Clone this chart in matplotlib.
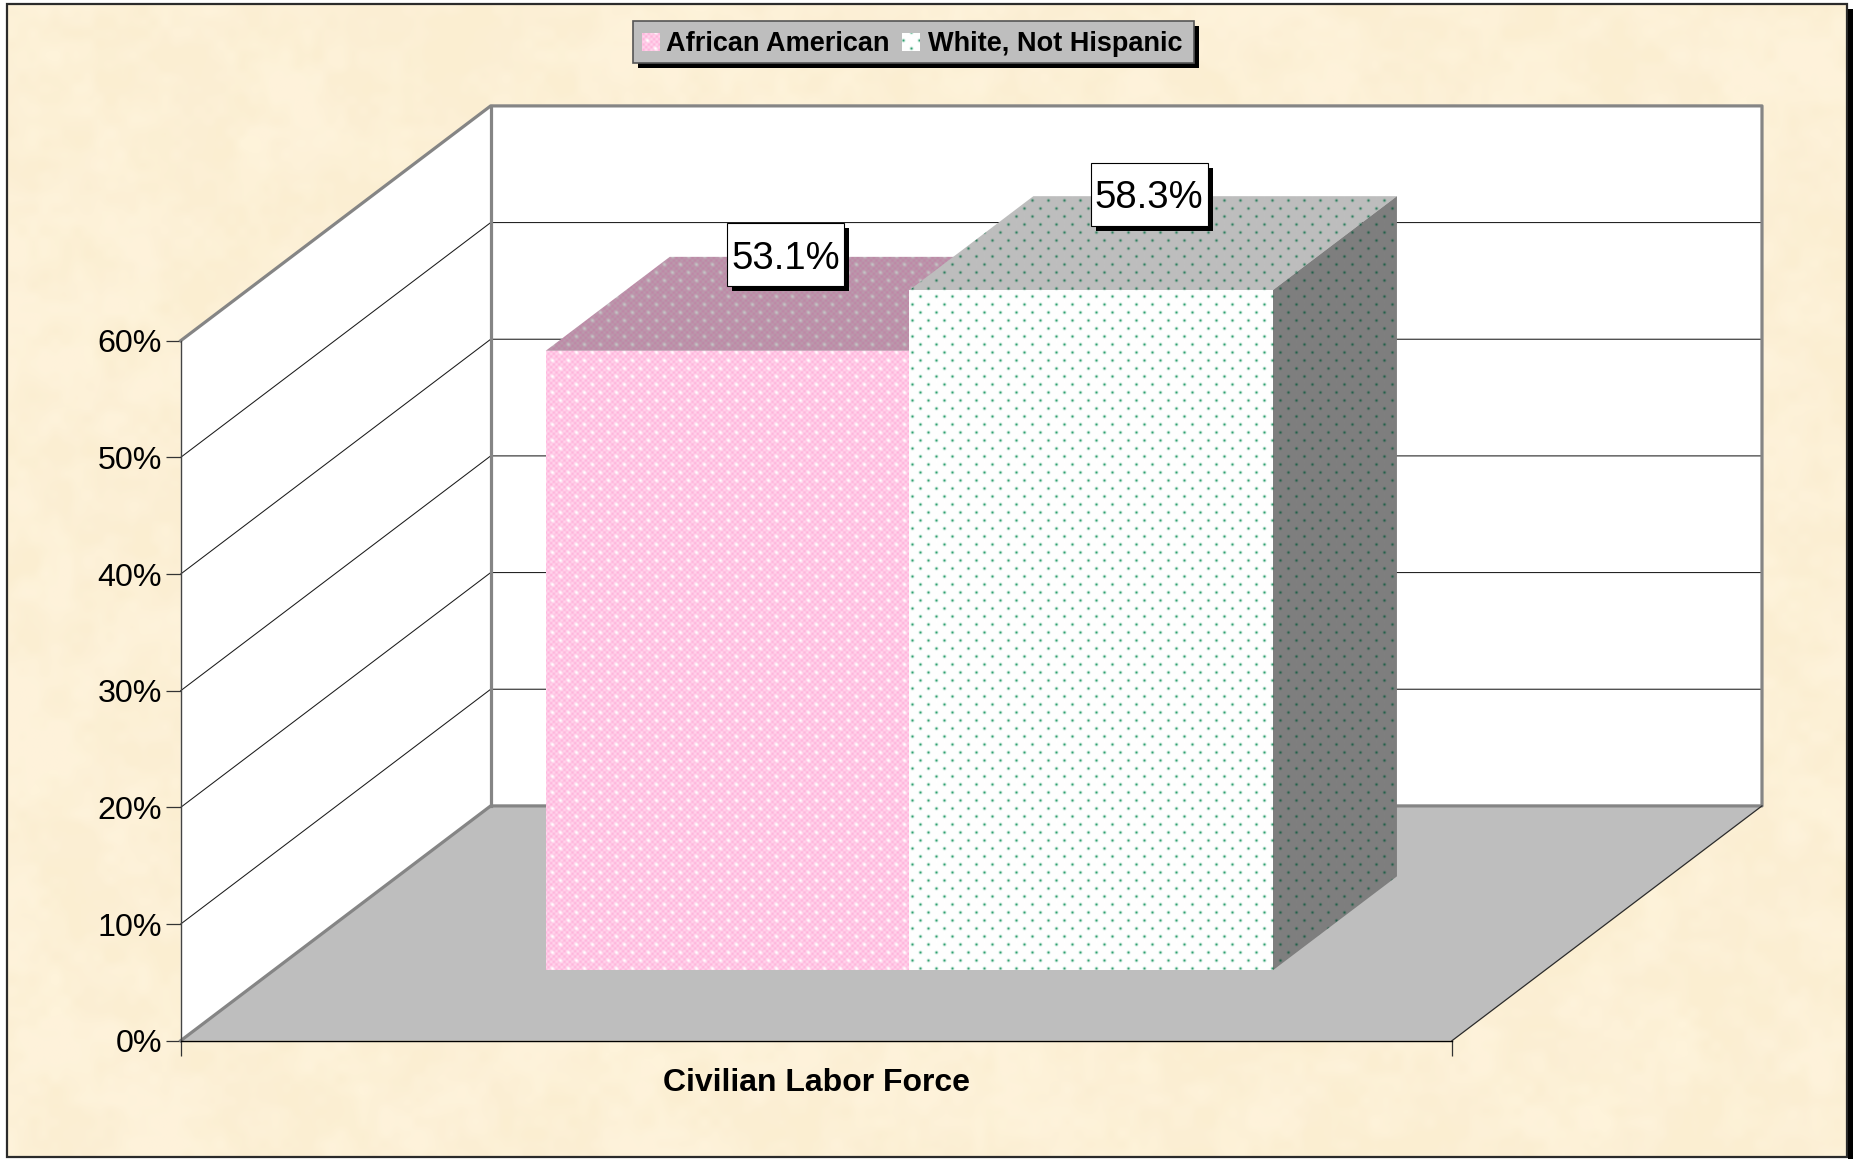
import numpy as np
import matplotlib
matplotlib.use("Agg")
import matplotlib.pyplot as plt
from matplotlib.patches import Polygon, Rectangle
from matplotlib.ticker import PercentFormatter

plt.rcParams['font.family'] = ['Liberation Sans', 'DejaVu Sans']

# data
category = "Civilian Labor Force"
series_names = ["African American", "White, Not Hispanic"]
african_american = [53.1]
white_not_hispanic = [58.3]
y_ticks = [0, 10, 20, 30, 40, 50, 60]

W, H = 1858, 1159
DPI = 100

# front plane of the 3d box, in pixels of the figure
FRONT_L, FRONT_R = 180.7, 1452.0
FRONT_0, FRONT_60 = 1040.7, 340.7
DX = 310.0 / (FRONT_R - FRONT_L)        # x shift for full depth
DY = 234.8 / (FRONT_0 - FRONT_60) * 60  # value shift for full depth
GROUP_W = 0.572
BAR_D0, BAR_D1 = 0.30, 0.70

yy, xx = np.mgrid[0:H, 0:W]


def hash_noise(cell, seed):
    # smooth value noise, from a plain sine hash
    nx, ny = W // cell + 2, H // cell + 2
    j, i = np.mgrid[0:ny, 0:nx]
    g = np.sin(i * 12.9898 + j * 78.233 + seed) * 43758.5453
    g = g - np.floor(g)
    fx, fy = xx / cell, yy / cell
    ix, iy = fx.astype(int), fy.astype(int)
    tx, ty = fx - ix, fy - iy
    tx, ty = tx * tx * (3 - 2 * tx), ty * ty * (3 - 2 * ty)
    a = g[iy, ix] * (1 - tx) + g[iy, ix + 1] * tx
    b = g[iy + 1, ix] * (1 - tx) + g[iy + 1, ix + 1] * tx
    return a * (1 - ty) + b * ty


def rgb(c):
    return np.array(matplotlib.colors.to_rgb(c))


def parchment():
    n1 = hash_noise(70, 1.3) * 0.35 + hash_noise(28, 2.7) * 0.4 + hash_noise(11, 4.1) * 0.25
    n2 = hash_noise(50, 7.7) * 0.6 + hash_noise(18, 9.2) * 0.4
    n1 = np.clip((n1 - 0.5) * 2.4 + 0.5, 0, 1)[..., None]
    n2 = np.clip((n2 - 0.5) * 2.5 + 0.5, 0, 1)[..., None]
    tex = rgb("#FBEED1") * (1 - n1) + rgb("#FEF3DA") * n1
    return tex * (1 - 0.15 * n2) + rgb("#FEF0E0") * 0.15 * n2


def lattice(sigma):
    # staggered blobs: 16 px along a row, 8 px between rows
    px = (xx + 8 * (((yy + 4) // 8) % 2) + 8) % 16 - 8
    py = (yy + 4) % 8 - 4
    return np.exp(-(px ** 2 + py ** 2) / (2 * sigma ** 2))[..., None]


def dotted(base, dot):
    a = lattice(0.95)
    return rgb(base) * (1 - a) + rgb(dot) * a


def checked(c1, c2, blob):
    a = (0.5 + 0.5 * np.sin(np.pi * xx * 3 / 8) * np.sin(np.pi * yy * 3 / 8))[..., None]
    tex = rgb(c1) * (1 - a) + rgb(c2) * a
    b = lattice(1.3)
    return tex * (1 - b) + rgb(blob) * b


fig = plt.figure(figsize=(W / DPI, H / DPI), dpi=DPI, facecolor="white")

# background sheet
bg = fig.add_axes([0, 0, 1, 1], zorder=0)
bg.set_xlim(0, W)
bg.set_ylim(H, 0)
bg.axis("off")
sheet = bg.imshow(parchment(), extent=(0, W, H, 0), aspect="auto", interpolation="nearest")
frame = Rectangle((7, 4), 1840, 1153, fill=False, ec="#2b2b2b", lw=1.6)
bg.add_patch(frame)
sheet.set_clip_path(Rectangle((7, 4), 1840, 1153, transform=bg.transData))
bg.add_patch(Rectangle((1848, 9), 5, H, fc="black", ec="none"))

# chart axes = front plane of the box
ax = fig.add_axes([FRONT_L / W, 1 - FRONT_0 / H, (FRONT_R - FRONT_L) / W, (FRONT_0 - FRONT_60) / H], zorder=2)
ax.patch.set_visible(False)
ax.set_xlim(0, 1)
ax.set_ylim(0, 60)
ax.set_yticks(y_ticks)
ax.yaxis.set_major_formatter(PercentFormatter(decimals=0))
ax.set_xticks([0, 1])
ax.set_xticklabels([])
ax.tick_params(axis="y", length=10.5, width=0.9, color="#333333", labelsize=23.2, pad=3)
ax.tick_params(axis="x", length=10.5, width=0.9, color="#333333")
ax.set_xlabel(category, fontsize=23, fontweight="bold", labelpad=6)
for s in ("top", "right"):
    ax.spines[s].set_visible(False)
ax.spines["left"].set_color("#444444")
ax.spines["left"].set_linewidth(1.0)
ax.spines["bottom"].set_color("black")
ax.spines["bottom"].set_linewidth(1.0)


def project(x, v, d):
    return (x + d * DX, v + d * DY)


def face(pts, **kw):
    p = Polygon([project(*q) for q in pts], closed=True, clip_on=False, **kw)
    ax.add_patch(p)
    return p


def line3d(pts, **kw):
    q = [project(*p) for p in pts]
    ax.plot([a[0] for a in q], [a[1] for a in q], clip_on=False, solid_capstyle="projecting", **kw)


inv = ax.transData.inverted()
(ex0, ey0), (ex1, ey1) = inv.transform([(0, 0), (W, H)])


def tex_face(tex, pts, z):
    p = Polygon([project(*q) for q in pts], closed=True, transform=ax.transData)
    im = ax.imshow(tex, extent=(ex0, ex1, ey0, ey1), origin="upper", aspect="auto",
                   interpolation="nearest", zorder=z)
    im.set_clip_box(fig.bbox)
    im.set_clip_path(p)


# walls and floor
vmax = y_ticks[-1]
face([(0, 0, 0), (0, vmax, 0), (0, vmax, 1), (0, 0, 1)], fc="white", ec="none", zorder=1)
face([(0, 0, 1), (0, vmax, 1), (1, vmax, 1), (1, 0, 1)], fc="white", ec="none", zorder=1)
face([(0, 0, 0), (1, 0, 0), (1, 0, 1), (0, 0, 1)], fc="#BEBEBE", ec="none", zorder=1)

for v in y_ticks[1:-1]:
    line3d([(0, v, 0), (0, v, 1), (1, v, 1)], color="#1a1a1a", lw=0.75, zorder=1.5)
wall = dict(color="#858585", lw=2.3, zorder=1.6)
line3d([(0, vmax, 0), (0, vmax, 1), (1, vmax, 1), (1, 0, 1), (0, 0, 1), (0, 0, 0)], **wall)
line3d([(0, 0, 1), (0, vmax, 1)], **wall)
line3d([(1, 0, 0), (1, 0, 1)], color="#2b2b2b", lw=0.9, zorder=1.6)

# bars
x0 = 0.5 - GROUP_W / 2
bw = GROUP_W / 2
pink_front = checked("#FFB4DC", "#FFD6EC", "#FFFFFF")
pink_top = checked("#BF87A7", "#B99BAC", "#C4C4C4")
green_front = dotted("#FFFFFF", "#2FA070")
green_top = dotted("#BEBEBE", "#2F8060")
green_side = dotted("#7F7F7F", "#24604A")

left, mid, right = x0, x0 + bw, x0 + 2 * bw
v1 = african_american[0]
v2 = white_not_hispanic[0]
tex_face(pink_top, [(left, v1, BAR_D0), (mid, v1, BAR_D0), (mid, v1, BAR_D1), (left, v1, BAR_D1)], 3)
tex_face(pink_front, [(left, 0, BAR_D0), (mid, 0, BAR_D0), (mid, v1, BAR_D0), (left, v1, BAR_D0)], 3.1)
tex_face(green_top, [(mid, v2, BAR_D0), (right, v2, BAR_D0), (right, v2, BAR_D1), (mid, v2, BAR_D1)], 3.2)
tex_face(green_side, [(right, 0, BAR_D0), (right, 0, BAR_D1), (right, v2, BAR_D1), (right, v2, BAR_D0)], 3.3)
tex_face(green_front, [(mid, 0, BAR_D0), (right, 0, BAR_D0), (right, v2, BAR_D0), (mid, v2, BAR_D0)], 3.4)

# value boxes
sx = 1 / (FRONT_R - FRONT_L)
sy = 60 / (FRONT_0 - FRONT_60)
BOX_W, BOX_H, SHADOW = 117, 63, 5
for xc, val in ((left + bw / 2, v1), (mid + bw / 2, v2)):
    cx = project(xc, val, 0.5)[0] - 4 * sx
    cy = project(xc, val, BAR_D1)[1] + 2 * sy
    ax.add_patch(Rectangle((cx - BOX_W / 2 * sx + SHADOW * sx, cy - BOX_H / 2 * sy - SHADOW * sy), BOX_W * sx, BOX_H * sy,
                           fc="black", ec="none", clip_on=False, zorder=4))
    ax.add_patch(Rectangle((cx - BOX_W / 2 * sx, cy - BOX_H / 2 * sy), BOX_W * sx, BOX_H * sy,
                           fc="white", ec="black", lw=0.8, clip_on=False, zorder=4.1))
    ax.text(cx, cy, f"{val:.1f}%", ha="center", va="center_baseline", fontsize=27.5, clip_on=False, zorder=4.2)

# legend on its own layer
top = fig.add_axes([0, 0, 1, 1], zorder=5)
top.patch.set_visible(False)
top.set_xlim(0, W)
top.set_ylim(H, 0)
top.axis("off")
top.add_patch(Rectangle((638, 26), 561, 42, fc="black", ec="none"))
top.add_patch(Rectangle((633, 21), 561, 42, fc="#BEBEBE", ec="#555555", lw=1.2))
for tex, x_sw, x_txt, name in ((pink_front, 642.5, 666, series_names[0]), (green_front, 902.5, 928, series_names[1])):
    im = top.imshow(tex, extent=(0, W, H, 0), aspect="auto", interpolation="nearest", zorder=3)
    im.set_clip_path(Rectangle((x_sw, 33), 18, 18, transform=top.transData))
    top.text(x_txt, 41, name, ha="left", va="center_baseline", fontsize=19.5, fontweight="bold", zorder=4)
top.set_xlim(0, W)
top.set_ylim(H, 0)

fig.savefig("out.png", dpi=DPI, facecolor="white")
